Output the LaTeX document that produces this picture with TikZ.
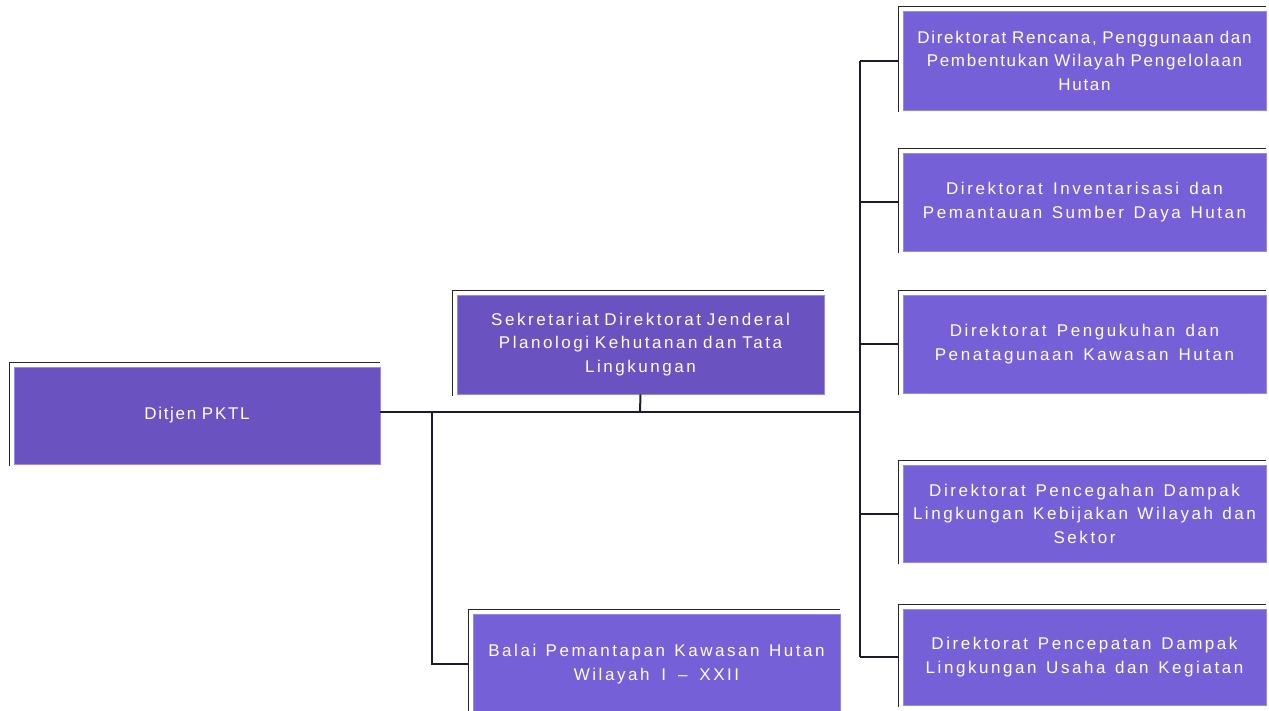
\documentclass[tikz,border=0pt]{standalone}
\usepackage{fontspec}
\setmainfont{Liberation Sans}[LetterSpace=10]
\newfontfamily\widefont{Liberation Sans}[LetterSpace=15]
\newcommand\wsp{\spaceskip=9pt plus 1pt\relax}
\definecolor{pdark}{HTML}{6A52C0}
\definecolor{plight}{HTML}{7660D8}
\definecolor{pedge}{HTML}{9A88E6}
\definecolor{lnc}{HTML}{1E1A33}
\tikzset{
  orgbox/.style={draw=pedge, line width=0.8pt, minimum width=364pt, text width=362pt, align=center,
     text=white, font=\fontsize{17}{23.5}\selectfont, inner sep=0pt},
  darkbox/.style={orgbox, fill=pdark},
  lightbox/.style={orgbox, fill=plight},
  widebox/.style={lightbox, font=\widefont\fontsize{17}{23.5}\selectfont},
  rim/.style={draw=black!85, line width=1.6pt},
  conn/.style={draw=lnc, line width=2pt}
}
\begin{document}
\begin{tikzpicture}[x=1pt,y=-1pt]
\useasboundingbox (0,0) rectangle (1269,710);
% boxes
\node[darkbox, minimum width=366pt, minimum height=97pt] (dit) at (197,415.5) {Ditjen PKTL};
\node[darkbox, font=\widefont\fontsize{17}{23.5}\selectfont, minimum width=367pt, minimum height=99pt] (sek) at (640.5,344.5) {Sekretariat Direktorat Jenderal\\Planologi Kehutanan dan Tata\\Lingkungan};
\node[widebox, minimum width=367pt, minimum height=100pt] (bal) at (656.5,664) {\wsp Balai Pemantapan Kawasan Hutan\\Wilayah I – XXII};
\node[lightbox, minimum width=363pt, minimum height=99pt] (r1) at (1084.5,60.5) {Direktorat Rencana, Penggunaan dan\\Pembentukan Wilayah Pengelolaan\\Hutan};
\node[widebox, minimum width=363pt, minimum height=98pt] (r2) at (1084.5,202) {\wsp Direktorat Inventarisasi dan\\Pemantauan Sumber Daya Hutan};
\node[widebox, minimum width=363pt, minimum height=98pt] (r3) at (1084.5,344) {\wsp Direktorat Pengukuhan dan\\Penatagunaan Kawasan Hutan};
\node[widebox, minimum width=363pt, minimum height=97pt] (r4) at (1084.5,513.5) {\wsp Direktorat Pencegahan Dampak\\Lingkungan Kebijakan Wilayah dan\\Sektor};
\node[widebox, minimum width=363pt, minimum height=96pt] (r5) at (1084.5,657) {\wsp Direktorat Pencepatan Dampak\\Lingkungan Usaha dan Kegiatan};
% rims (top/left dark edge)
\foreach \n in {dit,sek,bal,r1,r2,r3,r4,r5}{
  \draw[rim] ([xshift=-4pt,yshift=-2pt]\n.south west) -- ([xshift=-4pt,yshift=4pt]\n.north west) -- ([yshift=4pt]\n.north east);
}
% connectors
\coordinate (bus) at (860,412);
\coordinate (jl) at (432,412);
\coordinate (js) at (640,412);
\draw[conn] (dit.east |- bus) -- (bus);
\draw[conn] (sek.south) -- (js);
\draw[conn] (jl) |- ([xshift=-4pt]bal.west);
\draw[conn] (bus |- r1.west) -- (bus |- r5.west);
\foreach \n in {r1,r2,r3,r4,r5}{
  \draw[conn] (bus |- \n.west) -- ([xshift=-4pt]\n.west);
}
\end{tikzpicture}
\end{document}
